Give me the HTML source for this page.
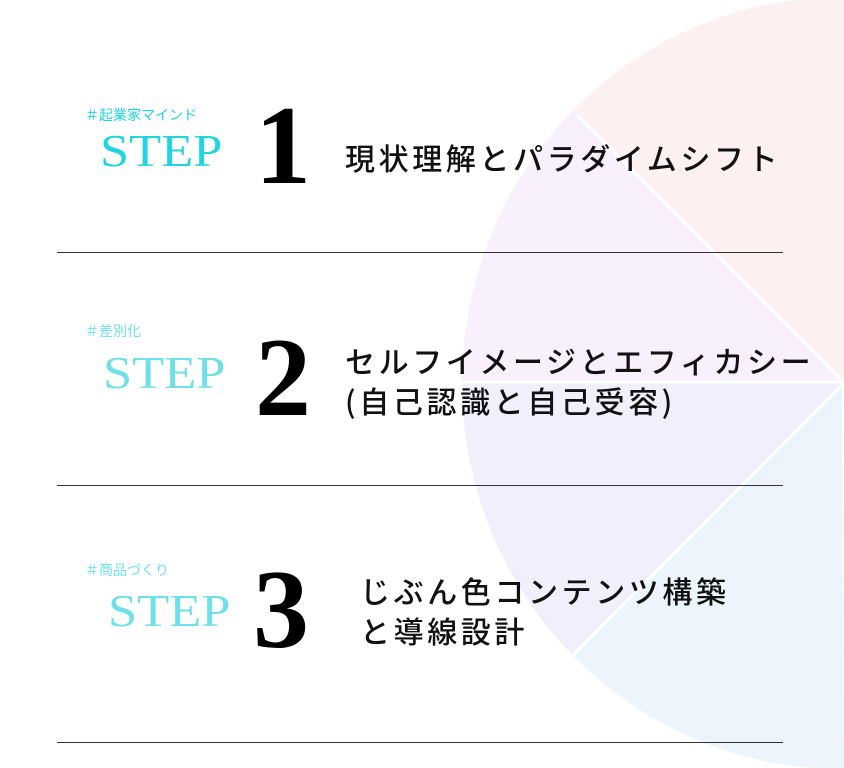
<!DOCTYPE html>
<html><head><meta charset="utf-8"><style>
html,body{margin:0;padding:0;background:#fff;}
body{width:844px;height:768px;position:relative;overflow:hidden;font-family:"Liberation Sans","Noto Sans CJK JP",sans-serif;}
.a{position:absolute;white-space:nowrap;}
.tag{font-size:14px;line-height:14px;}
.step{font-family:"Liberation Serif",serif;font-size:46px;line-height:46px;transform-origin:0 0;transform:scaleX(1.14);}
.num{font-family:"Liberation Serif",serif;font-weight:bold;font-size:112px;line-height:112px;color:#000;}
.t{font-family:"Noto Sans CJK JP",sans-serif;font-weight:500;font-size:30px;line-height:40px;letter-spacing:3.6px;color:#111;}
.hr{position:absolute;left:57px;width:726px;height:1px;background:#333;}
</style></head><body>
<svg class="a" style="left:0;top:0" width="844" height="768">
<defs><clipPath id="c"><ellipse cx="842" cy="383" rx="380" ry="386"/></clipPath></defs>
<g clip-path="url(#c)">
<polygon points="842,382 400,0 844,0 844,382" fill="#fdf0f0"/>
<polygon points="842,382 577,115 400,0 400,382" fill="#f8f0fc"/>
<polygon points="842,382 400,382 400,768 573,655" fill="#f0effb"/>
<polygon points="842,382 573,655 400,768 844,768" fill="#ebf5fb"/>
<line x1="577" y1="115" x2="842" y2="380" stroke="#fff" stroke-width="3"/>
<line x1="460" y1="382" x2="844" y2="382" stroke="#fff" stroke-width="3"/>
<line x1="842" y1="385" x2="573" y2="655" stroke="#fff" stroke-width="3"/>
</g></svg>

<div class="hr" style="top:252px"></div>
<div class="hr" style="top:485px"></div>
<div class="hr" style="top:742px"></div>

<div class="a tag" style="left:85px;top:108px;color:#22d3e0">＃起業家マインド</div>
<div class="a step" style="left:100px;top:128px;color:#22d3e0">STEP</div>
<div class="a num" style="left:255px;top:90px">1</div>
<div class="a t" style="left:345px;top:137px">現状理解とパラダイムシフト</div>

<div class="a tag" style="left:85px;top:324px;color:#6fe0e8">＃差別化</div>
<div class="a step" style="left:103px;top:350px;color:#6fe0e8">STEP</div>
<div class="a num" style="left:255px;top:322px">2</div>
<div class="a t" style="left:345px;top:340px">セルフイメージとエフィカシー</div>
<div class="a t" style="left:345px;top:380px">(自己認識と自己受容)</div>

<div class="a tag" style="left:85px;top:563px;color:#6fe0e8">＃商品づくり</div>
<div class="a step" style="left:108px;top:588px;color:#6fe0e8">STEP</div>
<div class="a num" style="left:253px;top:554px">3</div>
<div class="a t" style="left:360px;top:570px">じぶん色コンテンツ構築</div>
<div class="a t" style="left:360px;top:610px">と導線設計</div>
</body></html>
